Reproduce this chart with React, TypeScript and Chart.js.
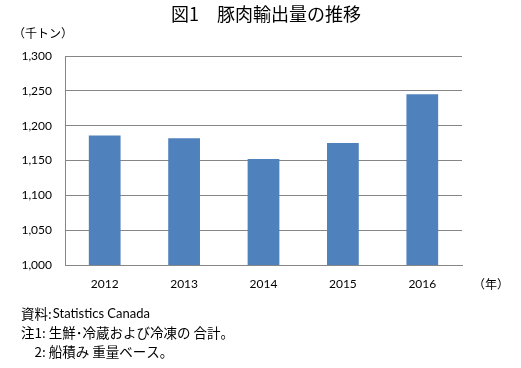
import React, { useEffect, useRef } from "react";
import { Chart, registerables } from "chart.js";

Chart.register(...registerables);

const categories = ["2012", "2013", "2014", "2015", "2016"];
const exportVolume = [1186, 1182, 1152, 1175, 1245];
const yMin = 1000;
const yMax = 1300;
const yStep = 50;

const title = "図1　豚肉輸出量の推移";
const yUnit = "（千トン）";
const xUnit = "（年）";
const sourcePrefix = "資料:";
const sourceName = "Statistics Canada";
const note1 = "注1: 生鮮･冷蔵および冷凍の 合計。";
const note2 = "　2: 船積み 重量ベース。";

const JP = '"Noto Sans CJK JP", sans-serif';
const LAT = 'Lato, "Open Sans", sans-serif';

const textPlugin = {
  id: "texts",
  afterDraw(chart: any) {
    const ctx = chart.ctx;
    ctx.save();
    ctx.fillStyle = "#000";
    ctx.textBaseline = "middle";
    ctx.font = `18px ${JP}`;
    ctx.textAlign = "center";
    ctx.fillText(title, 266, 14);
    ctx.textAlign = "left";
    ctx.font = `12px ${JP}`;
    ctx.fillText(yUnit, 13, 33);
    ctx.fillText(xUnit, 473, 284);
    ctx.font = `13.5px ${JP}`;
    ctx.fillText(sourcePrefix, 21, 314);
    const w = ctx.measureText(sourcePrefix).width;
    ctx.font = `13px ${LAT}`;
    ctx.fillText(sourceName, 21 + w + 1, 314);
    ctx.font = `13.5px ${JP}`;
    ctx.fillText(note1, 21, 333);
    ctx.fillText(note2, 21, 352);
    ctx.restore();
  },
};

export default function App() {
  const ref = useRef<HTMLCanvasElement>(null);
  useEffect(() => {
    if (!ref.current) return;
    const chart = new Chart(ref.current, {
      type: "bar",
      data: {
        labels: categories,
        datasets: [
          {
            data: exportVolume,
            backgroundColor: "#4f81bd",
            barPercentage: 0.4,
            categoryPercentage: 1,
          },
        ],
      },
      options: {
        animation: false,
        responsive: false,
        devicePixelRatio: 1,
        layout: { padding: { left: 0, top: 56, right: 59, bottom: 63 } },
        plugins: { legend: { display: false }, tooltip: { enabled: false }, title: { display: false } },
        scales: {
          x: {
            grid: { display: false, drawTicks: false },
            border: { display: true, color: "#868686", width: 1 },
            ticks: { padding: 12, color: "#000", font: { family: LAT, size: 12 } },
            afterFit(scale: any) {
              scale.height = 40;
            },
          },
          y: {
            min: yMin,
            max: yMax,
            grid: { color: "#868686", lineWidth: 1, drawTicks: false },
            border: { display: true, color: "#868686", width: 1 },
            ticks: {
              stepSize: yStep,
              padding: 13,
              color: "#000",
              font: { family: LAT, size: 12 },
              callback: (v: any) => Number(v).toLocaleString("en-US"),
            },
            afterFit(scale: any) {
              scale.width = 65;
            },
          },
        },
      },
      plugins: [textPlugin],
    });
    return () => chart.destroy();
  }, []);
  return (
    <div style={{ position: "absolute", left: 0, top: 0, width: 521, height: 368, background: "#fff" }}>
      <canvas ref={ref} width={521} height={368} style={{ width: 521, height: 368 }} />
    </div>
  );
}
